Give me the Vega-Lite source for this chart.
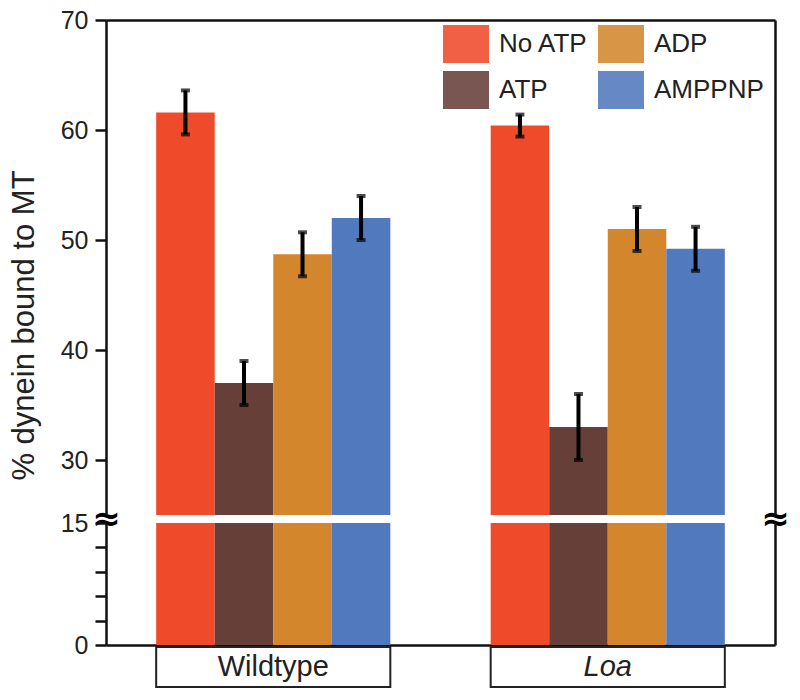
{
  "$schema": "https://vega.github.io/schema/vega-lite/v6.json",
  "background": "white",
  "padding": {"left": 8, "top": 8, "right": 5, "bottom": 5},
  "spacing": 8,
  "bounds": "flush",
  "config": {
    "view": {"stroke": null},
    "font": "Liberation Sans",
    "axis": {
      "grid": false,
      "domainColor": "#111111",
      "domainWidth": 2.5,
      "tickColor": "#111111",
      "tickWidth": 2.5,
      "tickSize": 11,
      "labelFont": "Liberation Sans",
      "labelFontSize": 25,
      "labelColor": "#222222",
      "labelPadding": 7
    }
  },
  "datasets": {
    "bars": [
      {"group": "Wildtype", "condition": "No ATP", "value": 61.6, "lo": 59.6, "hi": 63.6},
      {"group": "Wildtype", "condition": "ATP", "value": 37.0, "lo": 35.0, "hi": 39.0},
      {"group": "Wildtype", "condition": "ADP", "value": 48.7, "lo": 46.7, "hi": 50.7},
      {"group": "Wildtype", "condition": "AMPPNP", "value": 52.0, "lo": 50.0, "hi": 54.0},
      {"group": "Loa", "condition": "No ATP", "value": 60.4, "lo": 59.4, "hi": 61.4},
      {"group": "Loa", "condition": "ATP", "value": 33.0, "lo": 30.0, "hi": 36.0},
      {"group": "Loa", "condition": "ADP", "value": 51.0, "lo": 49.0, "hi": 53.0},
      {"group": "Loa", "condition": "AMPPNP", "value": 49.2, "lo": 47.2, "hi": 51.2}
    ],
    "groups": [
      {"group": "Wildtype"},
      {"group": "Loa"}
    ]
  },
  "vconcat": [
    {
      "width": 669,
      "height": 495,
      "data": {"name": "bars"},
      "encoding": {
        "x": {"field": "group", "type": "nominal", "scale": {"domain": ["Wildtype", "Loa"], "paddingInner": 0.3, "paddingOuter": 0.15}, "axis": {"orient": "top", "title": null, "labels": false, "ticks": false, "domain": true}},
        "xOffset": {"field": "condition", "type": "nominal", "scale": {"domain": ["No ATP", "ATP", "ADP", "AMPPNP"], "paddingInner": 0, "paddingOuter": 0}}
      },
      "layer": [
        {
          "mark": {"type": "bar", "clip": true},
          "encoding": {
            "y": {
              "field": "value", "type": "quantitative",
              "scale": {"domain": [25, 70], "zero": false, "nice": false},
              "axis": {
                "values": [25, 30, 40, 50, 60, 70],
                "title": "% dynein bound to MT",
                "titleFont": "Liberation Sans",
                "titleFontSize": 31,
                "titleFontWeight": "normal",
                "titleColor": "#222222",
                "titleAngle": -90,
                "titleAlign": "center",
                "titleBaseline": "alphabetic",
                "titleX": -73,
                "titleY": 305,
                "labelOverlap": false,
                "labelFlush": false,
                "labelBound": false,
                "labelExpr": "datum.value == 25 ? '≈' : datum.label",
                "labelAlign": {"condition": {"test": "datum.value == 25", "value": "center"}, "value": "right"},
                "labelPadding": {"condition": {"test": "datum.value == 25", "value": -11}, "value": 7},
                "labelFont": {"condition": {"test": "datum.value == 25", "value": "DejaVu Sans"}, "value": "Liberation Sans"},
                "labelFontSize": {"condition": {"test": "datum.value == 25", "value": 34}, "value": 25},
                "labelFontWeight": {"condition": {"test": "datum.value == 25", "value": "bold"}, "value": "normal"},
                "labelColor": {"condition": {"test": "datum.value == 25", "value": "#000000"}, "value": "#222222"},
                "labelOffset": {"condition": {"test": "datum.value == 25", "value": 4}, "value": 0},
                "tickOpacity": {"condition": {"test": "datum.value == 25", "value": 0}, "value": 1}
              }
            },
            "y2": {"datum": 25},
            "color": {
              "field": "condition", "type": "nominal",
              "scale": {"domain": ["No ATP", "ATP", "ADP", "AMPPNP"], "range": ["#ef4a2a", "#673f39", "#d3862c", "#5179bd"]},
              "legend": {
                "title": null,
                "orient": "none",
                "direction": "vertical",
                "legendX": 337,
                "legendY": 1,
                "columns": 2,
                "columnPadding": 9,
                "rowPadding": 4,
                "padding": 0,
                "symbolType": "M-1,-0.826H1V0.826H-1Z",
                "symbolSize": 2116,
                "symbolStrokeWidth": 0,
                "symbolOpacity": 0.88,
                "labelFont": "Liberation Sans",
                "labelFontSize": 26,
                "labelColor": "#222222",
                "labelOffset": 10,
                "labelLimit": 0
              }
            }
          }
        },
        {
          "mark": {"type": "rule", "color": "#000000", "strokeWidth": 4},
          "encoding": {
            "y": {"field": "lo", "type": "quantitative", "scale": {"domain": [25, 70], "zero": false, "nice": false}, "axis": null},
            "y2": {"field": "hi"}
          }
        },
        {
          "mark": {"type": "tick", "color": "#000000", "thickness": 4, "size": 9, "orient": "horizontal"},
          "encoding": {
            "y": {"field": "lo", "type": "quantitative", "scale": {"domain": [25, 70], "zero": false, "nice": false}, "axis": null}
          }
        },
        {
          "mark": {"type": "tick", "color": "#000000", "thickness": 4, "size": 9, "orient": "horizontal"},
          "encoding": {
            "y": {
              "field": "hi", "type": "quantitative",
              "scale": {"domain": [25, 70], "zero": false, "nice": false},
              "axis": {
                "orient": "right",
                "title": null,
                "values": [25],
                "ticks": false,
                "tickSize": 0,
                "labelExpr": "'≈'",
                "labelAlign": "center",
                "labelPadding": 0,
                "labelFont": "DejaVu Sans",
                "labelFontSize": 34,
                "labelFontWeight": "bold",
                "labelColor": "#000000",
                "labelOffset": 4,
                "labelFlush": false,
                "labelOverlap": false,
                "labelBound": false
              }
            }
          }
        }
      ],
      "resolve": {"axis": {"y": "independent"}}
    },
    {
      "width": 669,
      "height": 122,
      "data": {"name": "bars"},
      "layer": [
        {
          "mark": {"type": "bar", "clip": true},
          "encoding": {
            "x": {"field": "group", "type": "nominal", "scale": {"domain": ["Wildtype", "Loa"], "paddingInner": 0.3, "paddingOuter": 0.15}, "axis": {"orient": "bottom", "title": null, "labels": false, "ticks": false, "domain": true}},
            "xOffset": {"field": "condition", "type": "nominal", "scale": {"domain": ["No ATP", "ATP", "ADP", "AMPPNP"], "paddingInner": 0, "paddingOuter": 0}},
            "y": {
              "field": "value", "type": "quantitative",
              "scale": {"domain": [0, 15], "nice": false},
              "axis": {
                "values": [0, 3, 6, 9, 12, 15],
                "labelExpr": "datum.value == 0 || datum.value == 15 ? datum.label : ''",
                "title": null,
                "labelOverlap": false,
                "labelFlush": false,
                "labelBound": false
              }
            },
            "color": {
              "field": "condition", "type": "nominal",
              "scale": {"domain": ["No ATP", "ATP", "ADP", "AMPPNP"], "range": ["#ef4a2a", "#673f39", "#d3862c", "#5179bd"]},
              "legend": null
            }
          }
        },
        {
          "mark": {"type": "rule", "opacity": 0},
          "encoding": {
            "y": {"datum": 0, "type": "quantitative", "scale": {"domain": [0, 15], "nice": false}, "axis": {"orient": "right", "title": null, "labels": false, "ticks": false, "domain": true}}
          }
        }
      ],
      "resolve": {"axis": {"y": "independent"}}
    },
    {
      "width": 669,
      "height": 34,
      "data": {"name": "groups"},
      "encoding": {
        "x": {"field": "group", "type": "nominal", "scale": {"domain": ["Wildtype", "Loa"], "paddingInner": 0.3, "paddingOuter": 0.15}, "axis": null}
      },
      "layer": [
        {
          "mark": {"type": "rect", "fill": "white", "stroke": "#222222", "strokeWidth": 2, "clip": false},
          "encoding": {
            "y": {"datum": 0, "type": "quantitative", "scale": {"domain": [0, 34], "nice": false}, "axis": null},
            "y2": {"datum": 40}
          }
        },
        {
          "transform": [{"filter": "datum.group == 'Wildtype'"}],
          "mark": {"type": "text", "font": "Liberation Sans", "fontSize": 29, "color": "#222222"},
          "encoding": {
            "y": {"datum": 20, "type": "quantitative", "scale": {"domain": [0, 34], "nice": false}, "axis": null},
            "text": {"field": "group"}
          }
        },
        {
          "transform": [{"filter": "datum.group == 'Loa'"}],
          "mark": {"type": "text", "font": "Liberation Sans", "fontSize": 29, "fontStyle": "italic", "color": "#222222"},
          "encoding": {
            "y": {"datum": 20, "type": "quantitative", "scale": {"domain": [0, 34], "nice": false}, "axis": null},
            "text": {"field": "group"}
          }
        }
      ]
    }
  ]
}
